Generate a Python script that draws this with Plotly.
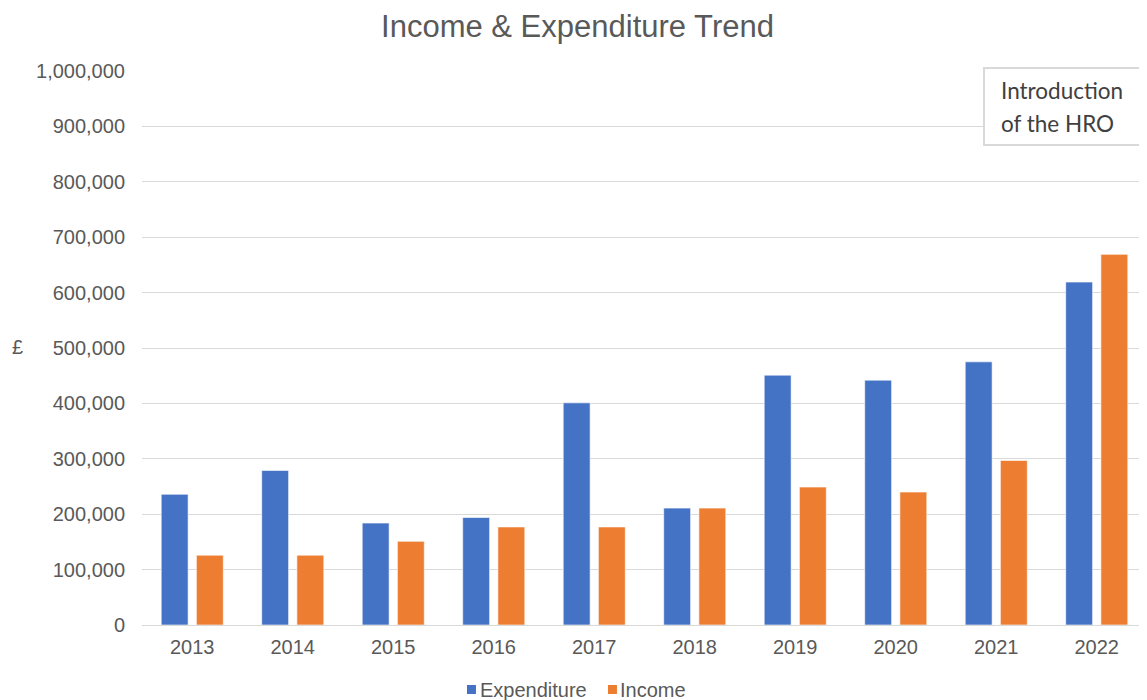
import plotly.graph_objects as go

# values
years = ["2013", "2014", "2015", "2016", "2017", "2018", "2019", "2020", "2021", "2022"]
expenditure = [236000, 279000, 184000, 194000, 401000, 211000, 451000, 442000, 475000, 619000]
income = [126000, 126000, 151000, 177000, 177000, 211000, 249000, 240000, 297000, 669000]

y_ticks = list(range(0, 1000001, 100000))
y_tick_labels = [f"{v:,}" for v in y_ticks]

series_names = ["Expenditure", "Income"]
series_colors = ["#4472C4", "#ED7D31"]

GREY = "#595959"
FONT = "Liberation Sans, Arial, sans-serif"

fig = go.Figure()
for name, vals, col in zip(series_names, [expenditure, income], series_colors):
    fig.add_trace(go.Bar(
        name=name, x=years, y=vals,
        marker=dict(color=col, line=dict(color="rgba(255,255,255,0.6)", width=1)),
    ))

# page body adds an 8px offset, so the figure is 8px smaller than the window
fig.update_layout(
    width=1139, height=692,
    paper_bgcolor="white", plot_bgcolor="white",
    margin=dict(l=134, r=0, t=63, b=75),
    barmode="group", bargap=0.30, bargroupgap=0.235,
    font=dict(family=FONT, color=GREY, size=20),
    title=dict(text="Income & Expenditure Trend", x=0.5, xanchor="center",
               y=0.974, yanchor="middle", font=dict(size=31, color=GREY)),
    xaxis=dict(showgrid=False, showline=True, linecolor="#d9d9d9", linewidth=1,
               tickfont=dict(size=20, color=GREY), ticklabelstandoff=4),
    yaxis=dict(range=[0, 1000000], tickvals=y_ticks, ticktext=y_tick_labels,
               showgrid=True, gridcolor="#d9d9d9", gridwidth=1, zeroline=False,
               tickfont=dict(size=20, color=GREY), ticklabelstandoff=16),
    showlegend=False,
)

# "£" axis label, kept horizontal like the reference
fig.add_annotation(text="£", xref="paper", yref="paper", x=-0.1234, y=0.5018,
                   showarrow=False, font=dict(size=20, color=GREY),
                   xanchor="center", yanchor="middle")

# legend drawn by hand: small square right next to the label
legend_items = [(0.3234, 0.3363), (0.4637, 0.4756)]
for (sq_x, txt_x), name, col in zip(legend_items, series_names, series_colors):
    fig.add_shape(type="rect", xref="paper", yref="paper",
                  x0=sq_x, x1=sq_x + 0.0089, y0=-0.1245, y1=-0.1083,
                  fillcolor=col, line=dict(width=0))
    fig.add_annotation(text=name, xref="paper", yref="paper", x=txt_x - 0.002, y=-0.1173,
                       xanchor="left", yanchor="middle", showarrow=False,
                       font=dict(size=20, color=GREY))

# callout box
fig.add_shape(type="rect", xref="paper", yref="paper",
              x0=0.8378, x1=1.02, y0=0.8664, y1=1.0054,
              fillcolor="white", line=dict(color="#d9d9d9", width=2))
for txt, yy in [("Introduction", 0.9657), ("of the HRO", 0.9061)]:
    fig.add_annotation(text=txt, xref="paper", yref="paper", x=0.8527, y=yy,
                       xanchor="left", yanchor="middle", showarrow=False,
                       font=dict(family="Lato, sans-serif", size=22.5, color="#404040"))

fig.write_html("out.html")
